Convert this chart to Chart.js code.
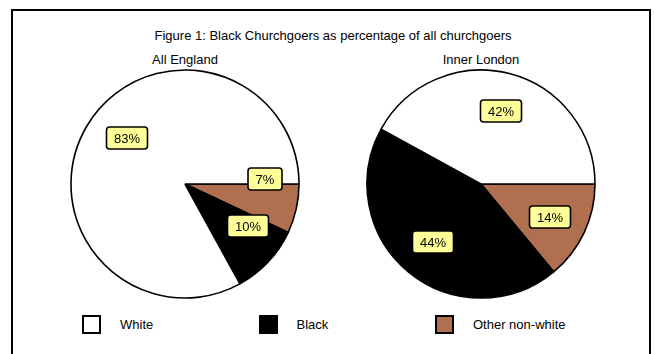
<!DOCTYPE html>
<html>
<head>
<meta charset="utf-8">
<script src="https://cdn.jsdelivr.net/npm/chart.js@4/dist/chart.umd.min.js"></script>
<style>
html,body{margin:0;padding:0;background:#fff;width:655px;height:354px;overflow:hidden;
  font-family:"Liberation Sans",Arial,sans-serif;color:#000}
#frame{position:absolute;left:11px;top:9px;width:640px;height:360px;border:2px solid #000;box-sizing:border-box}
.t{position:absolute;font-size:13px;line-height:16px;white-space:nowrap;text-align:center}
.cv{position:absolute}
.sw{position:absolute;width:19px;height:19px;border:2px solid #000;box-sizing:border-box}
.lt{position:absolute;font-size:13px;line-height:16px;white-space:nowrap}
</style>
</head>
<body>
<div id="frame"></div>
<div class="t" id="title" style="left:133px;width:400px;top:28px"></div>
<div class="t" id="sub0" style="left:85px;width:200px;top:52px"></div>
<div class="t" id="sub1" style="left:381px;width:200px;top:52px"></div>
<canvas class="cv" id="c0" width="240" height="240" style="left:65px;top:64px"></canvas>
<canvas class="cv" id="c1" width="240" height="240" style="left:361px;top:64px"></canvas>
<div id="legend"></div>
<script>
// ---- data ----
const chartTitle = 'Figure 1: Black Churchgoers as percentage of all churchgoers';
const pieTitles = ['All England', 'Inner London'];
const categories = ['White', 'Black', 'Other non-white'];
const englandValues = [83, 10, 7];
const londonValues = [42, 44, 14];

// ---- styles ----
const sliceColours = ['#ffffff', '#000000', '#b07050'];
const drawOrder = [2, 1, 0]; // clockwise from 3 o'clock: Other, Black, White
const labelAngleShift = [[8.1, -9, -16.2], [0.8, 0.5, 0.4]]; // degrees, per category
const labelRadius = [[0.652, 0.663, 0.70], [0.668, 0.66, 0.67]];

document.getElementById('title').textContent = chartTitle;
document.getElementById('sub0').textContent = pieTitles[0];
document.getElementById('sub1').textContent = pieTitles[1];

const legendX = [82, 258.5, 435];
const legend = document.getElementById('legend');
categories.forEach((c, i) => {
  const s = document.createElement('div');
  s.className = 'sw';
  s.style.left = legendX[i] + 'px';
  s.style.top = '315px';
  s.style.background = sliceColours[i];
  legend.appendChild(s);
  const t = document.createElement('div');
  t.className = 'lt';
  t.style.left = (legendX[i] + 38) + 'px';
  t.style.top = '317px';
  t.textContent = c;
  legend.appendChild(t);
});

const boxLabels = {
  id: 'boxLabels',
  afterDatasetsDraw(chart, args, opts) {
    const ctx = chart.ctx;
    const meta = chart.getDatasetMeta(0);
    const ds = chart.data.datasets[0];
    meta.data.forEach((arc, j) => {
      const cat = ds.catIndex[j];
      const p = arc.getProps(['x', 'y', 'startAngle', 'endAngle', 'outerRadius'], true);
      const mid = (p.startAngle + p.endAngle) / 2 + opts.shift[cat] * Math.PI / 180;
      const r = p.outerRadius * opts.radius[cat];
      const cx = Math.round(p.x + Math.cos(mid) * r);
      const cy = Math.round(p.y + Math.sin(mid) * r);
      const txt = ds.data[j] + '%';
      ctx.save();
      ctx.font = '13px "Liberation Sans", Arial, sans-serif';
      const w = Math.round(ctx.measureText(txt).width + 15);
      const h = 22;
      const x0 = cx - w / 2, y0 = cy - h / 2, rr = 3;
      ctx.beginPath();
      ctx.moveTo(x0 + rr, y0);
      ctx.lineTo(x0 + w - rr, y0);
      ctx.quadraticCurveTo(x0 + w, y0, x0 + w, y0 + rr);
      ctx.lineTo(x0 + w, y0 + h - rr);
      ctx.quadraticCurveTo(x0 + w, y0 + h, x0 + w - rr, y0 + h);
      ctx.lineTo(x0 + rr, y0 + h);
      ctx.quadraticCurveTo(x0, y0 + h, x0, y0 + h - rr);
      ctx.lineTo(x0, y0 + rr);
      ctx.quadraticCurveTo(x0, y0, x0 + rr, y0);
      ctx.closePath();
      ctx.fillStyle = '#ffff99';
      ctx.fill();
      ctx.lineWidth = 1.6;
      ctx.strokeStyle = '#000';
      ctx.stroke();
      ctx.fillStyle = '#000';
      ctx.textAlign = 'center';
      ctx.textBaseline = 'middle';
      ctx.fillText(txt, cx, cy + 1);
      ctx.restore();
    });
  }
};

function makePie(id, values, k) {
  new Chart(document.getElementById(id), {
    type: 'pie',
    data: {
      labels: drawOrder.map(i => categories[i]),
      datasets: [{
        data: drawOrder.map(i => values[i]),
        catIndex: drawOrder,
        backgroundColor: drawOrder.map(i => sliceColours[i]),
        borderColor: '#000000',
        borderWidth: 1.6,
        hoverOffset: 0
      }]
    },
    options: {
      responsive: false,
      animation: false,
      events: [],
      rotation: 90,
      radius: 114,
      layout: { padding: 0 },
      plugins: {
        legend: { display: false },
        tooltip: { enabled: false },
        title: { display: false },
        boxLabels: { shift: labelAngleShift[k], radius: labelRadius[k] }
      }
    },
    plugins: [boxLabels]
  });
}
makePie('c0', englandValues, 0);
makePie('c1', londonValues, 1);
</script>
</body>
</html>
